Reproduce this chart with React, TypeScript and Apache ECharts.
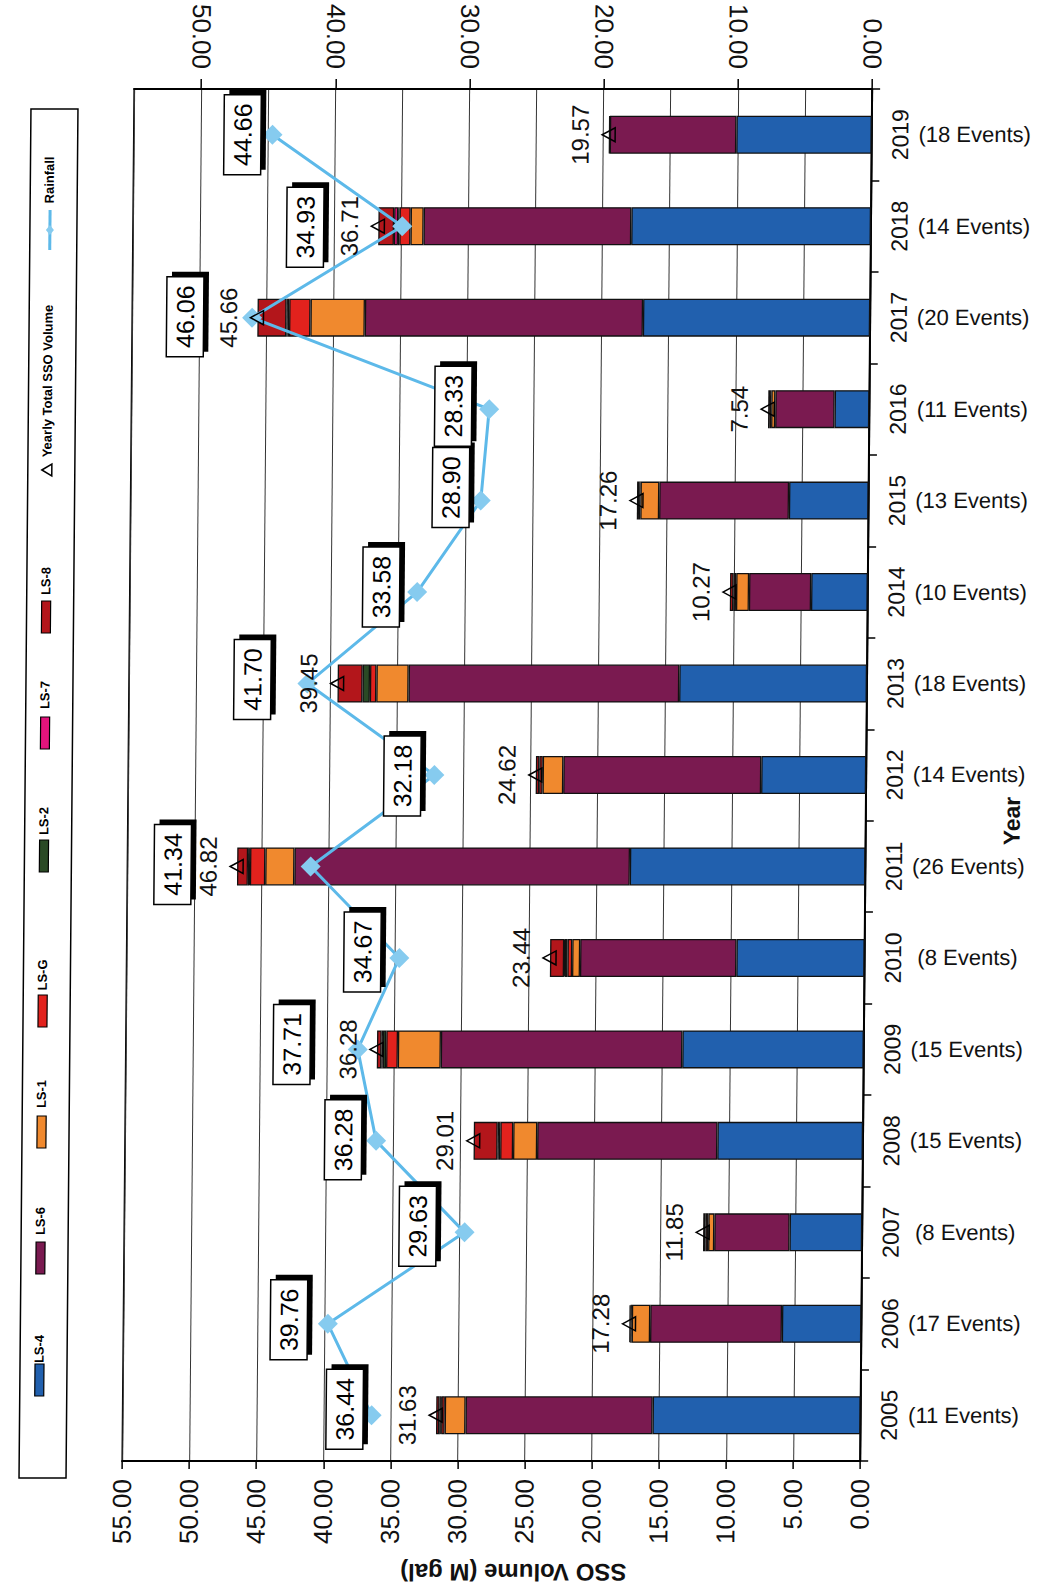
import React, { useEffect, useRef } from 'react';
import * as echarts from 'echarts';

const years = ['2005', '2006', '2007', '2008', '2009', '2010', '2011', '2012', '2013', '2014', '2015', '2016', '2017', '2018', '2019'];
const eventCounts = ['(11 Events)', '(17 Events)', '(8 Events)', '(15 Events)', '(15 Events)', '(8 Events)', '(26 Events)', '(14 Events)', '(18 Events)', '(10 Events)', '(13 Events)', '(11 Events)', '(20 Events)', '(14 Events)', '(18 Events)'];

const ls4 = [15.5, 5.92, 5.41, 10.85, 13.52, 9.55, 17.55, 7.82, 13.99, 4.22, 5.93, 2.59, 16.93, 17.86, 10.09];
const ls6 = [13.94, 9.82, 5.61, 13.43, 18.0, 11.65, 25.0, 14.75, 20.17, 4.63, 9.67, 4.42, 20.73, 15.48, 9.43];
const ls1 = [1.55, 1.37, 0.45, 1.79, 3.2, 0.59, 2.17, 1.54, 2.4, 0.96, 1.4, 0.3, 4.05, 0.97, null];
const lsG = [0.25, 0.1, 0.2, 0.96, 0.87, 0.35, 1.14, 0.25, 0.48, 0.2, 0.1, 0.1, 1.59, 0.83, null];
const ls2 = [0.05, null, null, 0.1, 0.25, 0.2, 0.05, null, 0.55, null, null, null, 0.1, 0.1, null];
const ls7 = [0.1, null, null, 0.1, 0.1, 0.05, 0.1, null, null, null, null, null, 0.1, 0.3, null];
const ls8 = [0.24, 0.07, 0.18, 1.78, 0.34, 1.05, 0.81, 0.26, 1.86, 0.26, 0.16, 0.13, 2.16, 1.17, 0.05];

const totals = [31.63, 17.28, 11.85, 29.01, 36.28, 23.44, 46.82, 24.62, 39.45, 10.27, 17.26, 7.54, 45.66, 36.71, 19.57];
const rainfall = [36.44, 39.76, 29.63, 36.28, 37.71, 34.67, 41.34, 32.18, 41.7, 33.58, 28.9, 28.33, 46.06, 34.93, 44.66];

// layout: where each rainfall label box sits relative to its point (page px)
const rainLabelShift = [
  [-27, -6], [-39, -4], [-47, -6], [-33, -1], [-66, -5], [-37, -6], [-138, -2], [-32, 1],
  [-55, -4], [-36, -5], [-30, -13], [-36, -3], [-67, -1], [-97, 1], [-30, 0],
];

const seriesNames = ['LS-4', 'LS-6', 'LS-1', 'LS-G', 'LS-2', 'LS-7', 'LS-8'];
const seriesColors = ['#2160AE', '#7A1A50', '#F0892E', '#E2221D', '#2A4A25', '#E3147C', '#B3161B'];
const seriesData = [ls4, ls6, ls1, lsG, ls2, ls7, ls8];

const FONT = '"Liberation Sans", Arial, sans-serif';

function legendGraphics() {
  const els: any[] = [];
  els.push({ type: 'rect', shape: { x: 25, y: 109, width: 47, height: 1369 }, style: { fill: '#fff', stroke: '#000', lineWidth: 1.5 }, z: 0 });
  const txt = (y: number, t: string) => ({
    type: 'text', x: 44, y, rotation: Math.PI / 2, z: 1,
    style: { text: t, font: 'bold 13px ' + FONT, fill: '#000', align: 'center', verticalAlign: 'middle' },
  });
  // Rainfall
  els.push(txt(180, 'Rainfall'));
  els.push({ type: 'line', shape: { x1: 45, y1: 210, x2: 45, y2: 250 }, style: { stroke: '#5DB9E9', lineWidth: 3 }, z: 1 });
  els.push({ type: 'polygon', shape: { points: [[45, 225], [49, 230], [45, 235], [41, 230]] }, style: { fill: '#86CBEF' }, z: 1 });
  // Yearly total
  els.push(txt(381, 'Yearly Total SSO Volume'));
  els.push({ type: 'polygon', shape: { points: [[39, 470], [49, 464], [49, 476]] }, style: { fill: 'none', stroke: '#000', lineWidth: 1.5 }, z: 1 });
  const items = [
    { name: 'LS-8', t: 581, r: 617, c: seriesColors[6] },
    { name: 'LS-7', t: 695, r: 733, c: seriesColors[5] },
    { name: 'LS-2', t: 821, r: 856, c: seriesColors[4] },
    { name: 'LS-G', t: 975, r: 1011, c: seriesColors[3] },
    { name: 'LS-1', t: 1094, r: 1132, c: seriesColors[2] },
    { name: 'LS-6', t: 1221, r: 1258, c: seriesColors[1] },
    { name: 'LS-4', t: 1349, r: 1380, c: seriesColors[0] },
  ];
  items.forEach((it) => {
    els.push(txt(it.t, it.name));
    els.push({ type: 'rect', shape: { x: 40, y: it.r - 16, width: 9, height: 32 }, style: { fill: it.c, stroke: '#000', lineWidth: 1.2 }, z: 1 });
  });
  // axis titles
  els.push({
    type: 'text', x: 520, y: 1572, rotation: Math.PI, z: 1,
    style: { text: 'SSO Volume (M gal)', font: 'bold 24px ' + FONT, fill: '#111', align: 'center', verticalAlign: 'middle' },
  });
  els.push({
    type: 'text', x: 1012, y: 821, rotation: Math.PI / 2, z: 1,
    style: { text: 'Year', font: 'bold 23px ' + FONT, fill: '#111', align: 'center', verticalAlign: 'middle' },
  });
  return els;
}

export default function App() {
  const ref = useRef<HTMLDivElement>(null);
  useEffect(() => {
    if (!ref.current) return;
    const chart = echarts.init(ref.current, null, { renderer: 'svg' });
    const barSeries = seriesNames.map((name, k) => ({
      name,
      type: 'bar',
      stack: 'sso',
      xAxisIndex: 0,
      yAxisIndex: 0,
      barWidth: 38,
      data: seriesData[k],
      itemStyle: { color: seriesColors[k], borderColor: '#111', borderWidth: 1.3 },
      z: 2,
    }));
    const option: any = {
      animation: false,
      backgroundColor: '#fff',
      textStyle: { fontFamily: FONT },
      grid: { left: 128, right: 172, top: 89, bottom: 124, show: true, borderColor: '#000', borderWidth: 1.5, backgroundColor: 'transparent' },
      xAxis: [
        {
          type: 'value', position: 'bottom', inverse: true, min: 0, max: 55, interval: 5,
          axisLine: { show: true, lineStyle: { color: '#000', width: 2 } },
          axisTick: { show: true, length: 8, lineStyle: { color: '#000', width: 1.5 } },
          axisLabel: { rotate: 90, fontSize: 26, color: '#111', margin: 18, fontFamily: FONT, formatter: (v: number) => v.toFixed(2) },
          splitLine: { show: true, lineStyle: { color: '#333', width: 1 } },
        },
        {
          type: 'value', position: 'top', inverse: true, min: 0, max: 55, interval: 10,
          axisLine: { show: true, lineStyle: { color: '#000', width: 2 } },
          axisTick: { show: true, length: 10, lineStyle: { color: '#000', width: 1.5 } },
          axisLabel: { rotate: 90, fontSize: 26, color: '#111', margin: 20, fontFamily: FONT, showMaxLabel: false, formatter: (v: number) => (v > 50 ? '' : v.toFixed(2)) },
          splitLine: { show: false },
        },
      ],
      yAxis: [
        {
          type: 'category', position: 'right', data: years,
          axisLine: { show: true, lineStyle: { color: '#000', width: 2 } },
          axisTick: { show: true, length: 8, lineStyle: { color: '#000', width: 1.5 } },
          axisLabel: { rotate: 90, fontSize: 23, color: '#111', margin: 17, interval: 0, fontFamily: FONT },
          splitLine: { show: false },
        },
        {
          type: 'category', position: 'right', offset: 103, data: eventCounts,
          axisLine: { show: false }, axisTick: { show: false },
          axisLabel: { fontSize: 22, color: '#111', margin: 0, interval: 0, align: 'center', fontFamily: FONT },
          splitLine: { show: false },
        },
      ],
      graphic: legendGraphics(),
      series: [
        ...barSeries,
        {
          name: 'Rainfall', type: 'line', xAxisIndex: 1, yAxisIndex: 0, data: rainfall,
          symbol: 'diamond', symbolSize: 20, z: 5,
          lineStyle: { color: '#5DB9E9', width: 3 },
          itemStyle: { color: '#86CBEF' },
        },
        {
          name: 'Yearly Total SSO Volume', type: 'custom', xAxisIndex: 0, yAxisIndex: 0, z: 6,
          data: totals.map((v, i) => [v, i]),
          encode: { x: 0, y: 1 },
          renderItem: (params: any, api: any) => {
            const v = api.value(0);
            const p = api.coord([v, api.value(1)]);
            return {
              type: 'group',
              children: [
                { type: 'polygon', shape: { points: [[p[0] - 7, p[1]], [p[0] + 6, p[1] - 7], [p[0] + 6, p[1] + 7]] }, style: { fill: 'none', stroke: '#000', lineWidth: 1.5 } },
                { type: 'text', x: p[0] - 29, y: p[1], rotation: Math.PI / 2, style: { text: v.toFixed(2), font: '24px ' + FONT, fill: '#111', align: 'center', verticalAlign: 'middle' } },
              ],
            };
          },
        },
        {
          name: 'Rainfall labels', type: 'custom', xAxisIndex: 1, yAxisIndex: 0, z: 7,
          data: rainfall.map((v, i) => [v, i]),
          encode: { x: 0, y: 1 },
          renderItem: (params: any, api: any) => {
            const v = api.value(0);
            const p = api.coord([v, api.value(1)]);
            const s = rainLabelShift[params.dataIndex];
            const cx = p[0] + s[0];
            const cy = p[1] + s[1];
            const w = 37;
            const h = 80;
            return {
              type: 'group',
              children: [
                { type: 'rect', shape: { x: cx - w / 2 + 5, y: cy - h / 2 - 5, width: w, height: h }, style: { fill: '#000' } },
                { type: 'rect', shape: { x: cx - w / 2, y: cy - h / 2, width: w, height: h }, style: { fill: '#fff', stroke: '#000', lineWidth: 1.5 } },
                { type: 'text', x: cx, y: cy, rotation: Math.PI / 2, style: { text: v.toFixed(2), font: '25px ' + FONT, fill: '#000', align: 'center', verticalAlign: 'middle' } },
              ],
            };
          },
        },
      ],
    };
    chart.setOption(option);
    return () => chart.dispose();
  }, []);
  return (
    <div
      ref={ref}
      style={{ position: 'absolute', left: 0, top: 0, width: 1038, height: 1585, transform: 'skewX(-0.5deg)', background: '#fff' }}
    />
  );
}
